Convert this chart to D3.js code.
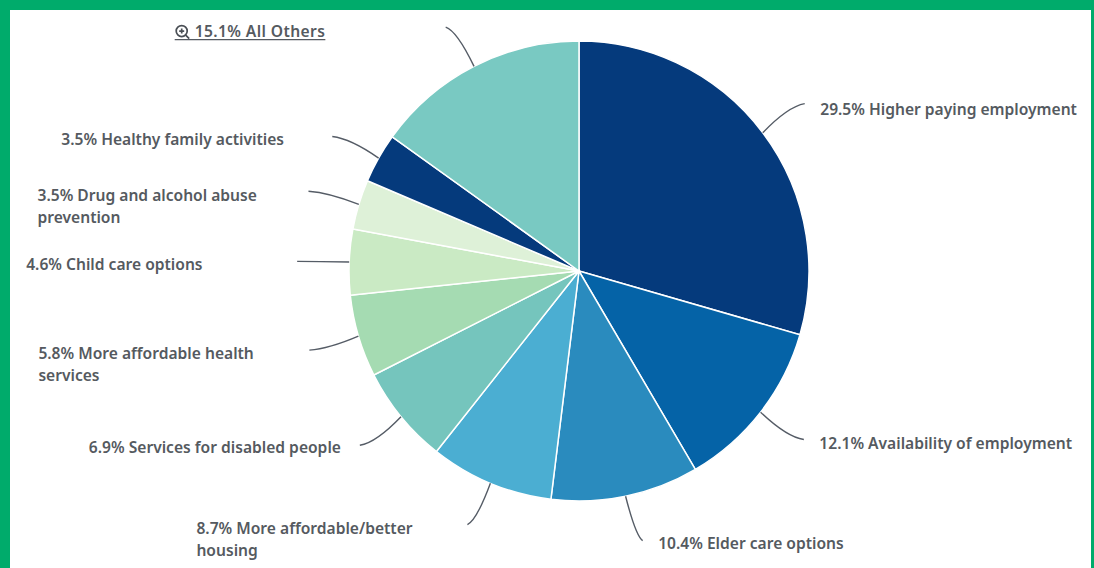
<!DOCTYPE html>
<html>
<head>
<meta charset="utf-8">
<script src="https://cdn.jsdelivr.net/npm/d3@7"></script>
<style>
html, body { margin: 0; padding: 0; background: #fff; }
svg { display: block; }
</style>
</head>
<body>
<script>
const width = 1094;
const height = 568;

const shares = [29.5, 12.1, 10.4, 8.7, 6.9, 5.8, 4.6, 3.5, 3.5, 15.1];
const categories = [
    "Higher paying employment",
    "Availability of employment",
    "Elder care options",
    "More affordable/better housing",
    "Services for disabled people",
    "More affordable health services",
    "Child care options",
    "Drug and alcohol abuse prevention",
    "Healthy family activities",
    "All Others"
];
const sliceColors = ["#053a7c", "#0563a7", "#2a8bbe", "#4baed2", "#75c5bd", "#a5dbb2", "#caeac4", "#def1d8", "#053a7c", "#79c9c2"];
// where the category text breaks onto a second line
const secondLines = ["", "", "", "housing", "", "services", "", "prevention", "", ""];
// how far each leader end drifts from the middle of its slice, in degrees
const leaderTurn = [0.4, -1, -1.6, 1.1, 0.8, 0.1, -0.3, -0.4, -0.8, -1.5];
// leader length outside the pie
const leaderLength = [51, 51, 47, 47, 50, 51, 52, 52, 51, 48];
// label baseline below the leader end
const labelDrop = [11, 9, 8, 9, 8, 9, 9, 10, 8, 10];

const cx = 579, cy = 271, radius = 230;
const lineHeight = 22;

const slices = categories.map((c, i) => ({
    name: c,
    share: shares[i],
    color: sliceColors[i],
    second: secondLines[i],
    turn: leaderTurn[i],
    length: leaderLength[i],
    drop: labelDrop[i]
}));

let svg = d3.select("body")
    .append("svg")
    .attr("width", width)
    .attr("height", height);

// green frame, open at the bottom
svg.append("rect").attr("width", width).attr("height", height).attr("fill", "#00ab6b");
svg.append("rect").attr("x", 10).attr("y", 10).attr("width", 1081).attr("height", height).attr("fill", "#fff");

let chart = svg.append("g").attr("transform", "translate(" + cx + "," + cy + ")");

let pie = d3.pie().value((d) => d.share).sort(null);
let arc = d3.arc().innerRadius(0).outerRadius(radius);

let valori = pie(slices);

chart.selectAll("path.slice")
    .data(valori)
    .enter()
    .append("path")
    .attr("class", "slice")
    .attr("d", arc)
    .attr("fill", (d) => d.data.color)
    .attr("stroke", "#fff")
    .attr("stroke-width", 1.5);

function polar(angle, r) {
    return [r * Math.sin(angle), -r * Math.cos(angle)];
}

function leaderEnd(d) {
    return polar((d.startAngle + d.endAngle) / 2 + d.data.turn * Math.PI / 180, radius + d.data.length);
}

function leaderPath(d) {
    let a = polar((d.startAngle + d.endAngle) / 2, radius);
    let b = leaderEnd(d);
    let p = d3.path();
    p.moveTo(a[0], a[1]);
    p.quadraticCurveTo(a[0] + (b[0] - a[0]) * 0.6, a[1] + (b[1] - a[1]) * 0.9, b[0], b[1]);
    return p.toString();
}

chart.selectAll("path.leader")
    .data(valori)
    .enter()
    .append("path")
    .attr("class", "leader")
    .attr("d", leaderPath)
    .attr("fill", "none")
    .attr("stroke", "#555c66")
    .attr("stroke-width", 1.4);

function isRight(d) {
    return leaderEnd(d)[0] > 0;
}

function labelX(d) {
    return leaderEnd(d)[0] + (isRight(d) ? 15.5 : -271);
}

let labels = chart.append("g")
    .attr("font-family", "'Noto Sans', sans-serif")
    .attr("font-size", 15.6)
    .attr("font-weight", 600)
    .attr("fill", "#555a60")
    .selectAll("text")
    .data(valori)
    .enter()
    .append("text")
    .attr("y", (d) => leaderEnd(d)[1] + d.data.drop)
    .attr("letter-spacing", (d) => d.data.name === "All Others" ? 0.4 : 0);

labels.append("tspan")
    .attr("x", (d) => labelX(d) + (d.data.name === "All Others" ? 20 : 0))
    .text((d) => d.data.share + "% " + (d.data.second ? d.data.name.slice(0, -d.data.second.length - 1) : d.data.name));

labels.filter((d) => d.data.second)
    .append("tspan")
    .attr("x", labelX)
    .attr("dy", lineHeight)
    .text((d) => d.data.second);

// drill-down marker on the grouped slice
let others = valori[valori.length - 1];
let othersText = labels.filter((d) => d.data.name === "All Others");
let textBox = othersText.node().getBBox();
let icon = chart.append("g")
    .attr("transform", "translate(" + (labelX(others) + 7) + "," + (leaderEnd(others)[1] + 4) + ")")
    .attr("fill", "none")
    .attr("stroke", "#4a4f55")
    .attr("stroke-width", 1.7);
icon.append("circle").attr("r", 5.5);
icon.append("path").attr("d", "M-2.5 0H2.5M0 -2.5V2.5M4 4L7.5 7.5");

chart.append("line")
    .attr("x1", labelX(others))
    .attr("x2", textBox.x + textBox.width)
    .attr("y1", leaderEnd(others)[1] + 12.5)
    .attr("y2", leaderEnd(others)[1] + 12.5)
    .attr("stroke", "#555a60")
    .attr("stroke-width", 1.2);
</script>
</body>
</html>
